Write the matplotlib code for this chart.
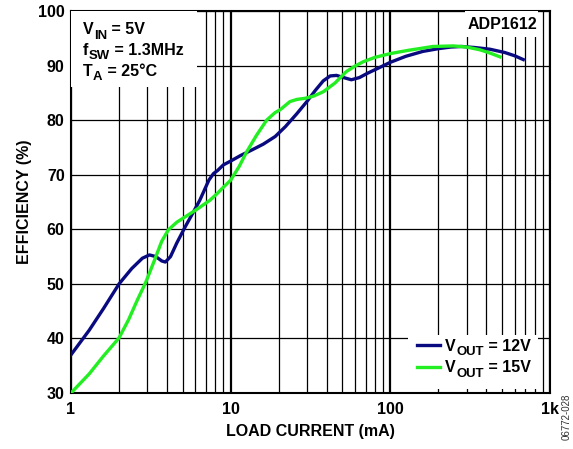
import matplotlib
matplotlib.use('Agg')
import matplotlib.pyplot as plt
from matplotlib.patches import Rectangle
from matplotlib.lines import Line2D
from matplotlib.ticker import FixedLocator, NullFormatter

plt.rcParams['font.family'] = ['Liberation Sans', 'DejaVu Sans']
plt.rcParams['font.weight'] = 'bold'

# VOUT = 12V
i_12 = [1, 1.3, 1.6, 2, 2.4, 2.8, 3.1, 3.4, 3.7, 3.9, 4.2, 4.6, 5.2, 5.8, 6.4, 6.8, 7.3, 7.8,
        8.3, 9, 10, 11.5, 13.5, 16, 19, 22, 26, 30, 34, 38, 42, 46, 51, 57, 64, 72, 85,
        100, 125, 160, 200, 240, 280, 340, 420, 520, 600, 680]
eff_12 = [37, 41.5, 45.5, 50, 52.8, 54.7, 55.3, 55.0, 54.2, 54.0, 55.0, 57.5, 60.5, 63.0, 65.3,
          67.0, 69.0, 70.2, 70.8, 71.8, 72.5, 73.5, 74.5, 75.6, 77.0, 78.8, 81.2, 83.4, 85.5,
          87.2, 88.1, 88.2, 87.8, 87.4, 87.8, 88.6, 89.6, 90.6, 91.7, 92.6, 93.1, 93.4, 93.5,
          93.3, 93.0, 92.4, 91.8, 91.1]

# VOUT = 15V
i_15 = [1, 1.3, 1.6, 2, 2.3, 2.6, 2.94, 3.3, 3.7, 4.07, 4.6, 5.2, 6.1, 7.4, 8.2, 9, 10, 11.3,
        12.6, 14.5, 16.8, 19, 20.4, 23.5, 26, 29.2, 33, 38, 45, 53, 60, 67.6, 80, 100, 130,
        185, 248, 300, 363, 420, 486]
eff_15 = [30, 33.5, 36.8, 40.1, 43.5, 47.0, 50.3, 54.0, 57.8, 59.9, 61.3, 62.3, 63.6, 65.3,
          66.5, 67.7, 69.0, 71.5, 74.2, 77.2, 80.0, 81.4, 81.9, 83.4, 83.8, 84.0, 84.4, 85.2,
          86.8, 88.9, 89.9, 90.7, 91.5, 92.2, 92.8, 93.5, 93.6, 93.4, 92.9, 92.3, 91.6]

x_ticks = [1, 10, 100, 1000]
x_labels = ['1', '10', '100', '1k']
y_ticks = [30, 40, 50, 60, 70, 80, 90, 100]

FS = 11.5
C12 = '#0a0a80'
C15 = '#22ee22'

fig = plt.figure(figsize=(5.73, 4.49), dpi=100)
ax = fig.add_axes([0.1239, 0.1247, 0.836, 0.8508])

ax.set_xscale('log')
ax.set_xlim(1, 1000)
ax.set_ylim(30, 100)
ax.set_xticks(x_ticks)
ax.set_xticklabels(x_labels)
ax.set_yticks(y_ticks)
minor = [m * d for d in (1, 10, 100) for m in range(2, 10)]
ax.xaxis.set_minor_locator(FixedLocator(minor))
ax.xaxis.set_minor_formatter(NullFormatter())
ax.tick_params(which='both', length=0, labelsize=FS)
ax.tick_params(axis='x', pad=6.5)
ax.tick_params(axis='y', pad=4.5)
for lab in ax.get_xticklabels() + ax.get_yticklabels():
    lab.set_fontweight('bold')

ax.grid(True, which='major', axis='x', color='black', linewidth=1.6, zorder=1)
ax.grid(True, which='minor', axis='x', color='black', linewidth=0.9, zorder=1)
ax.grid(True, which='major', axis='y', color='black', linewidth=0.9, zorder=1)
ax.set_axisbelow(True)
for s in ax.spines.values():
    s.set_linewidth(1.5)

ax.plot(i_12, eff_12, color=C12, linewidth=2.4, zorder=5)
ax.plot(i_15, eff_15, color=C15, linewidth=2.4, zorder=5)

ax.set_xlabel('LOAD CURRENT (mA)', fontsize=FS, fontweight='bold', labelpad=5)
ax.set_ylabel('EFFICIENCY (%)', fontsize=FS, fontweight='bold', labelpad=4)

# white boxes over the grid
ax.add_patch(Rectangle((0, 0.801), 0.263, 0.199, transform=ax.transAxes,
                       facecolor='white', edgecolor='none', zorder=3))
ax.add_patch(Rectangle((0.823, 0.932), 0.152, 0.068, transform=ax.transAxes,
                       facecolor='white', edgecolor='none', zorder=3))
ax.add_patch(Rectangle((0.704, 0.0105), 0.271, 0.1415, transform=ax.transAxes,
                       facecolor='white', edgecolor='none', zorder=3))


def sub_text(x, y, main, sub, rest):
    t1 = ax.text(x, y, main, transform=ax.transAxes, fontsize=FS,
                 fontweight='bold', va='baseline', zorder=7)
    t2 = ax.annotate(sub, xy=(1, 0), xycoords=t1, xytext=(0.3, -0.8),
                     textcoords='offset points', fontsize=FS * 0.82,
                     fontweight='bold', va='baseline', zorder=7)
    ax.annotate(rest, xy=(1, 0), xycoords=(t2, t1), xytext=(0, 0),
                textcoords='offset points', fontsize=FS,
                fontweight='bold', va='bottom', zorder=7)


sub_text(0.025, 0.9385, 'V', 'IN', ' = 5V')
sub_text(0.025, 0.885, 'f', 'SW', ' = 1.3MHz')
sub_text(0.025, 0.830, 'T', 'A', ' = 25°C')
ax.text(0.90, 0.964, 'ADP1612', transform=ax.transAxes, fontsize=FS,
        fontweight='bold', ha='center', va='center', zorder=7)

# legend
for yl, col, txt in [(0.1257, C12, ' = 12V'), (0.0688, C15, ' = 15V')]:
    ax.add_line(Line2D([0.722, 0.770], [yl, yl], transform=ax.transAxes,
                       color=col, linewidth=2.4, zorder=7))
    sub_text(0.781, yl - 0.0149, 'V', 'OUT', txt)

fig.text(0.989, 0.071, '06772-028', rotation=90, fontsize=7, fontweight='normal',
         ha='center', va='center', color='#333333')

fig.savefig('out.png', dpi=100)
